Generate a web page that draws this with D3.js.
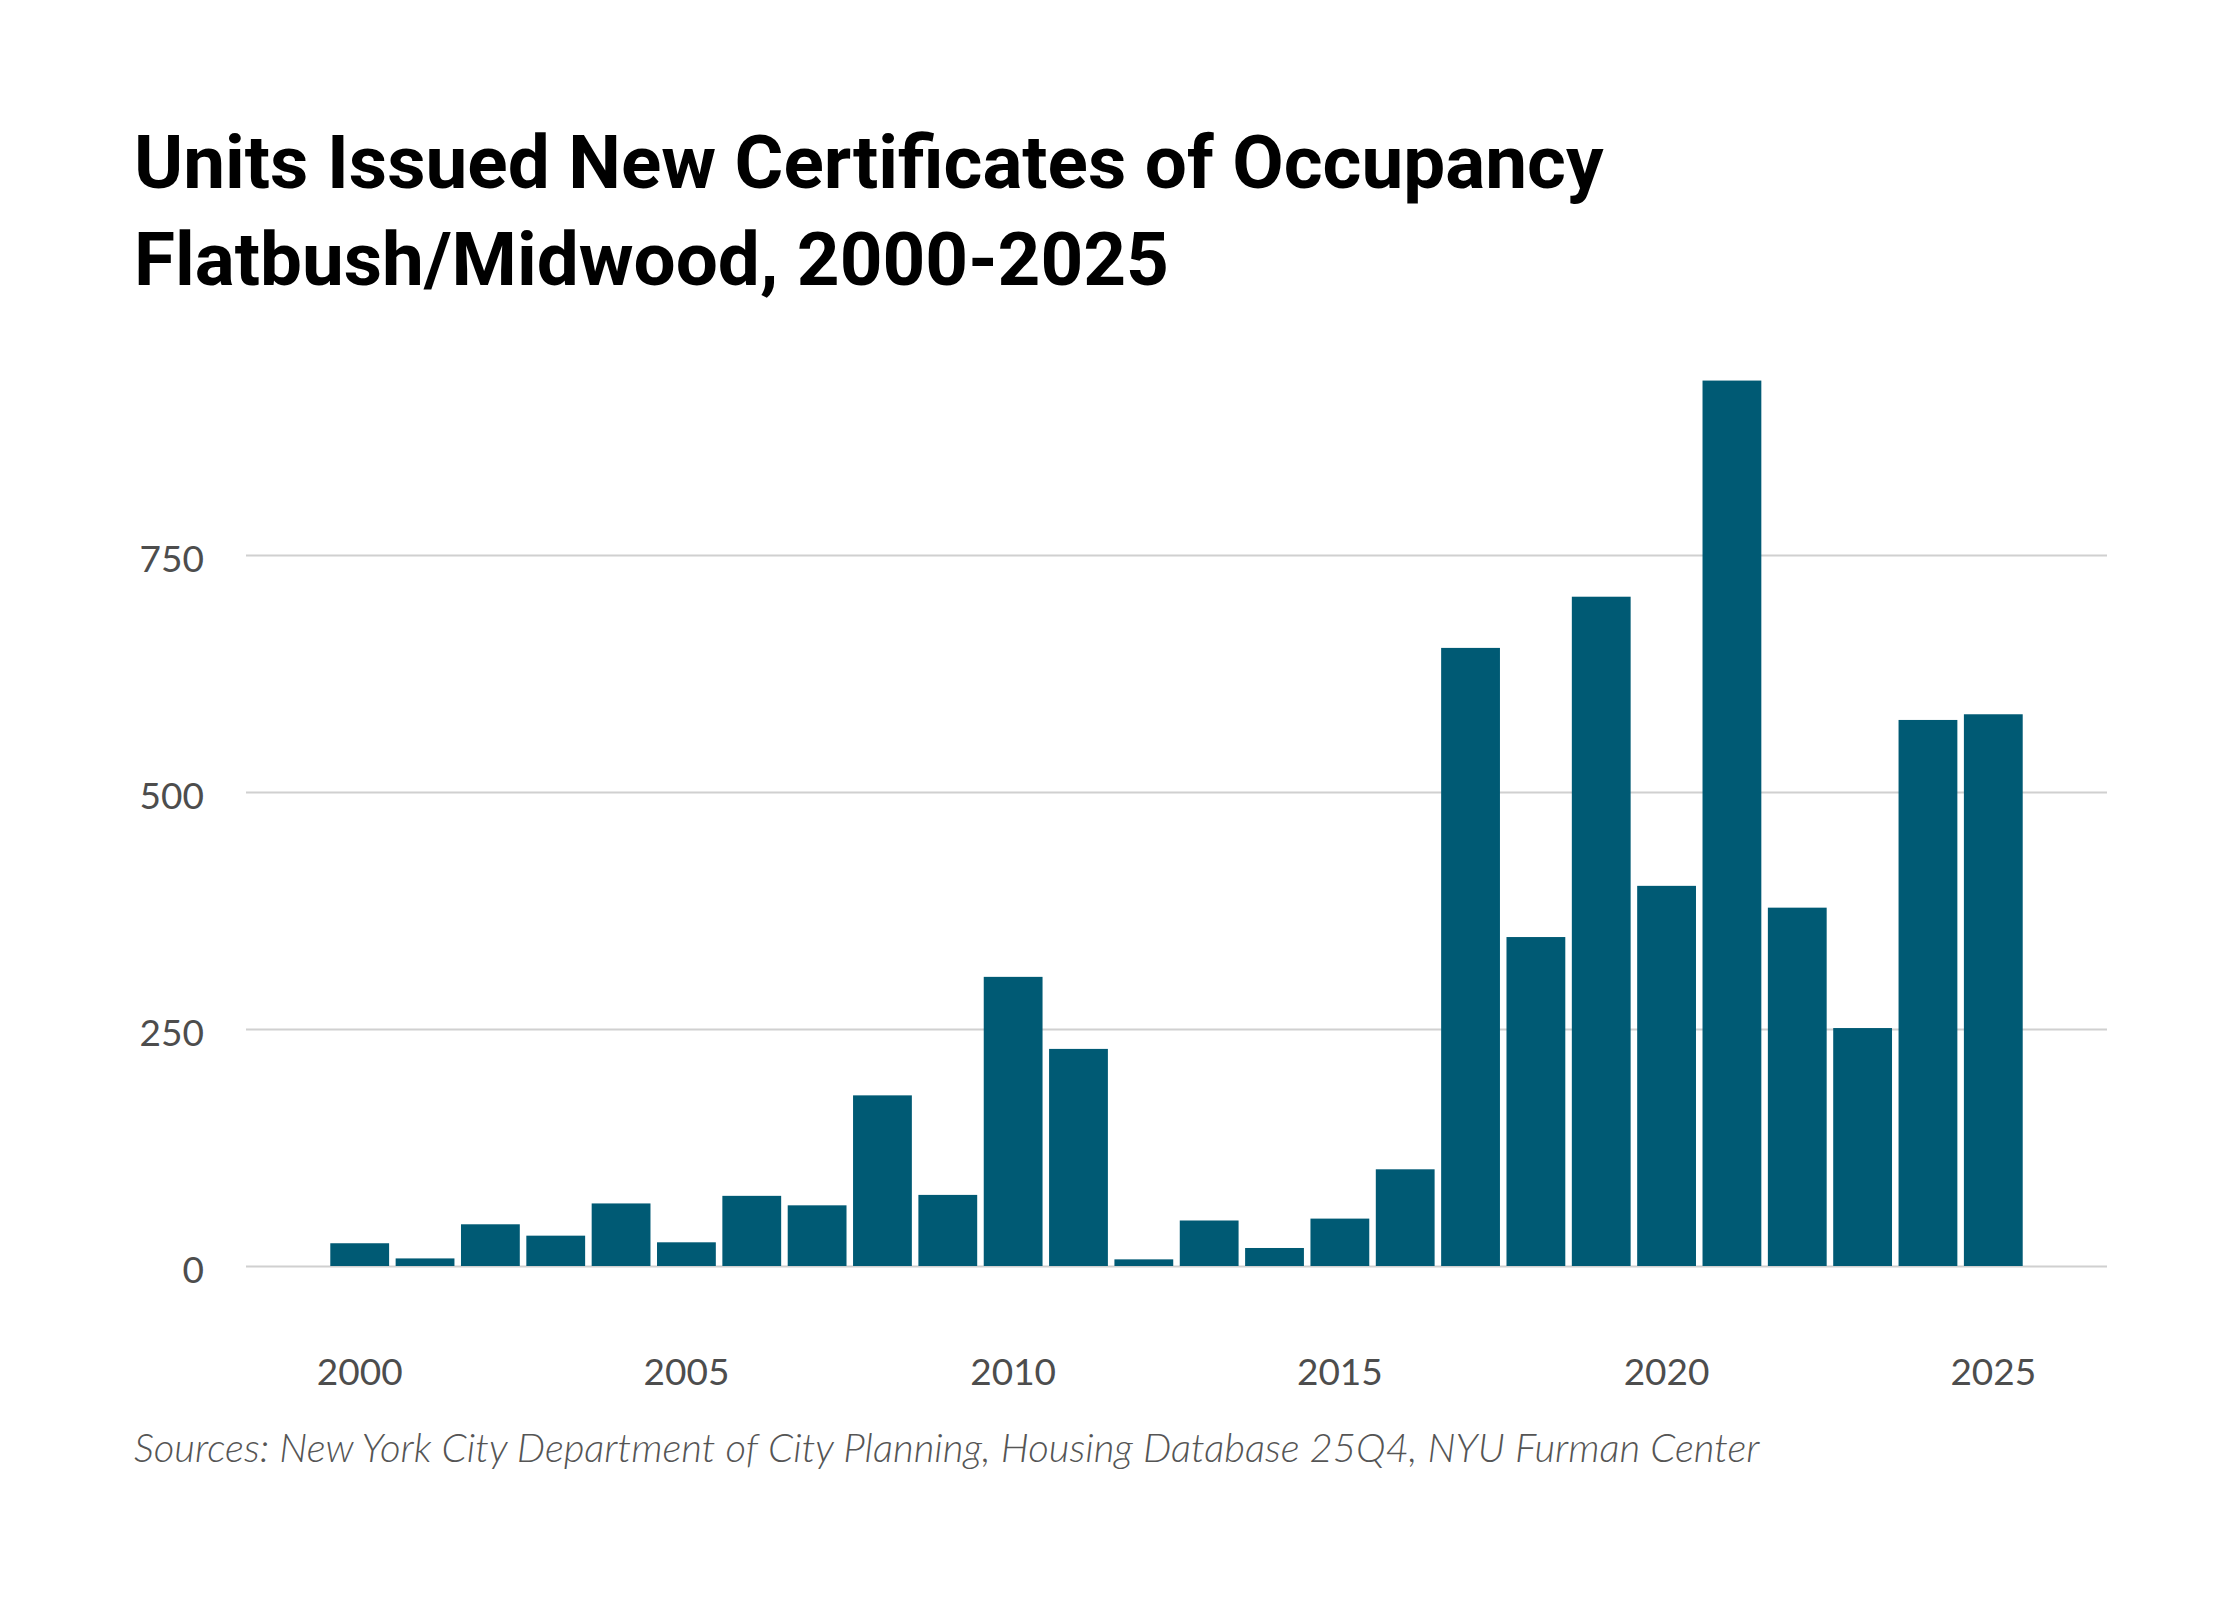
<!DOCTYPE html>
<html>
<head>
<meta charset="utf-8">
<script src="https://cdn.jsdelivr.net/npm/d3@7"></script>
<style>
  body { margin: 0; background: #fff; }
  svg { display: block; }
</style>
</head>
<body>
<div id="chart"></div>
<script>
'use strict';

var years = d3.range(2000, 2026);
var units = [24, 8, 44, 32, 66, 25, 74, 64, 180, 75, 305, 229, 7, 48, 19, 50, 102, 652, 347, 706, 401, 934, 378, 251, 576, 582];
var yTicks = [0, 250, 500, 750];
var xTicks = [2000, 2005, 2010, 2015, 2020, 2025];
var titleLines = ['Units Issued New Certificates of Occupancy', 'Flatbush/Midwood, 2000-2025'];
var sourceText = 'Sources: New York City Department of City Planning, Housing Database 25Q4, NYU Furman Center';

var width = 2240,
    height = 1600,
    plotLeft = 246,
    plotRight = 2107,
    baseY = 1266,
    barColor = '#005a74',
    gridColor = '#d0d0d0',
    tickColor = '#4d4d4d';

var svg = d3.select('#chart').append('svg')
    .attr('width', width)
    .attr('height', height)
    .attr('viewBox', '0 0 ' + width + ' ' + height);

var x = d3.scaleBand()
    .domain(years)
    .range([plotLeft, plotRight])
    .paddingInner(0.1)
    .paddingOuter(1.29);

var y = d3.scaleLinear()
    .domain([0, 750])
    .range([baseY, 555]);

// title, fitted to the reference width
var title = svg.append('g').attr('class', 'title');
title.selectAll('text').data(titleLines).enter().append('text')
    .attr('x', 134)
    .attr('y', function (d, i) { return 188 + i * 97; })
    .style('font-family', 'Roboto, "Noto Sans", sans-serif')
    .style('font-weight', 700)
    .style('font-size', '66px')
    .style('fill', '#000')
    .text(function (d) { return d; });

var firstLine = title.select('text').node();
var fitSize = 66 * 1470 / firstLine.getComputedTextLength();
title.selectAll('text').style('font-size', fitSize + 'px');

// grid lines
var yAxis = d3.axisLeft(y)
    .tickValues(yTicks)
    .tickSize(-(plotRight - plotLeft))
    .tickPadding(42)
    .tickFormat(d3.format('d'));

var gy = svg.append('g')
    .attr('transform', 'translate(' + plotLeft + ',0)')
    .call(yAxis);
gy.select('.domain').remove();
gy.selectAll('.tick line')
    .attr('stroke', gridColor)
    .attr('stroke-width', 2);
gy.selectAll('.tick text')
    .attr('dy', '0.45em')
    .style('font-family', 'Lato, "Open Sans", sans-serif')
    .style('font-size', '37px')
    .style('fill', tickColor);

// bars
svg.append('g').selectAll('rect')
    .data(years)
    .enter().append('rect')
    .attr('x', function (d) { return x(d); })
    .attr('width', x.bandwidth())
    .attr('y', function (d, i) { return y(units[i]); })
    .attr('height', function (d, i) { return baseY - y(units[i]); })
    .attr('fill', barColor);

// x axis labels
var xAxis = d3.axisBottom(x)
    .tickValues(xTicks)
    .tickSize(0)
    .tickPadding(0);

var gx = svg.append('g')
    .attr('transform', 'translate(0,1385)')
    .call(xAxis);
gx.select('.domain').remove();
gx.selectAll('.tick text')
    .attr('dy', 0)
    .style('font-family', 'Lato, "Open Sans", sans-serif')
    .style('font-size', '37px')
    .style('fill', tickColor);

// source note
var source = svg.append('text')
    .attr('x', 134)
    .attr('y', 1462)
    .style('font-family', 'Lato, "Open Sans", sans-serif')
    .style('font-style', 'italic')
    .style('font-weight', 300)
    .style('font-size', '36px')
    .style('fill', '#555')
    .text(sourceText);

var srcSize = 36 * 1626 / source.node().getComputedTextLength();
source.style('font-size', srcSize + 'px');
</script>
</body>
</html>
